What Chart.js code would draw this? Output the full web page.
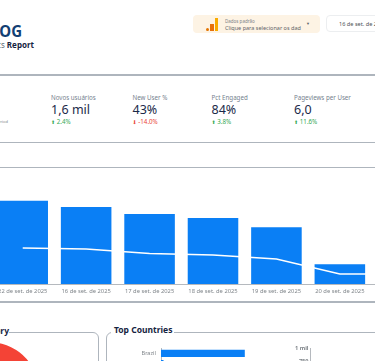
<!DOCTYPE html>
<html>
<head>
<meta charset="utf-8">
<title>Report</title>
<script src="https://cdn.jsdelivr.net/npm/chart.js@4"></script>
<style>
html, body { margin: 0; padding: 0; background: #fff; }
body { position: relative; width: 375px; height: 361px; overflow: hidden; font-family: "Noto Sans", sans-serif; filter: blur(0.35px); }
.abs { position: absolute; white-space: nowrap; }
.rule { position: absolute; left: 0; width: 375px; height: 1.5px; background: #aeb5bd; }
.kpi-label { font-size: 6.2px; line-height: 10px; color: #75818e; top: 92.5px; }
.kpi-value { font-size: 12.5px; line-height: 18px; color: #1b2a49; top: 101px; }
.kpi-delta { font-size: 6.2px; line-height: 8px; top: 118px; }
.kpi-delta span { font-family: "DejaVu Sans"; font-size: 5px; }
.up { color: #34a853; }
.down { color: #ea4335; }
canvas { position: absolute; }
</style>
</head>
<body>
<!-- header -->
<div class="abs" style="right:353px;top:20px;font:700 15px/20px 'Noto Sans';color:#123f73;transform:scaleY(1.12)">BLOG</div>
<div class="abs" style="right:341px;top:39px;font:400 8px/11px 'Noto Sans';color:#5d6873">Analytics <b style="color:#16233f">Report</b></div>

<div class="abs" style="left:193px;top:15px;width:126.5px;height:18px;background:#fdf3e4;border-radius:4px"></div>
<div class="abs" style="left:205.5px;top:28px;width:3px;height:3px;border-radius:50%;background:#e37400"></div>
<div class="abs" style="left:210px;top:24px;width:3.5px;height:7px;background:#e8710a"></div>
<div class="abs" style="left:214.5px;top:18px;width:3.5px;height:13px;background:#f9ab00"></div>
<div class="abs" style="left:225px;top:18px;font-size:4.5px;line-height:6px;color:#7d8288">Dados padrão</div>
<div class="abs" style="left:225px;top:24px;font-size:5.5px;line-height:8px;color:#5f6368">Clique para selecionar os dad</div>
<div class="abs" style="left:306px;top:21px;font-size:4px;line-height:6px;color:#5f6368">▼</div>
<div class="abs" style="left:325.5px;top:15px;width:80px;height:17px;box-sizing:border-box;border:1px solid #eceef0;border-radius:4px"></div>
<div class="abs" style="left:339px;top:20px;font-size:5.6px;line-height:8px;color:#4d5156">16 de set. de 2025</div>

<div class="rule" style="top:74px"></div>

<!-- scorecards -->
<div class="abs" style="right:367px;top:119px;font-size:4px;line-height:6px;color:#7d8288">vs previous period</div>
<div id="kpis"></div>

<div class="rule" style="top:141.5px"></div>
<div class="rule" style="top:166.5px"></div>
<canvas id="dailyChart"></canvas>
<div class="rule" style="top:301px"></div>

<!-- lower panels -->
<div class="abs" style="left:-40px;top:332px;width:138.5px;height:60px;box-sizing:border-box;border:1.5px solid #aeb5bd;border-radius:6px"></div>
<div class="abs" style="right:366px;top:325px;padding-left:3px;background:#fff;font:700 8.5px/12px 'Noto Sans';color:#16233f">Device Category</div>
<div class="abs" style="left:105.5px;top:332px;width:320px;height:60px;box-sizing:border-box;border:1.5px solid #aeb5bd;border-radius:6px"></div>
<div class="abs" style="left:111px;top:324px;padding:0 2px 0 3px;background:#fff;font:700 8.5px/12px 'Noto Sans';color:#16233f">Top Countries</div>
<canvas id="deviceChart"></canvas>
<canvas id="countryChart"></canvas>

<script>
const kpiLabels = ['Novos usuários', 'New User %', 'Pct Engaged', 'Pageviews per User'];
const kpiValues = ['1,6 mil', '43%', '84%', '6,0'];
const kpiDeltas = ['2.4%', '-14.0%', '3.8%', '11.6%'];
const kpiLeft = [51, 132.5, 211.5, 294];

const days = ['22 de set. de 2025', '16 de set. de 2025', '17 de set. de 2025', '18 de set. de 2025', '19 de set. de 2025', '20 de set. de 2025', '21 de set. de 2025'];
const sessions = [833, 770, 700, 660, 567, 197, 190];
const newUsers = [360, 350, 305, 290, 250, 100, 100];

const devices = ['mobile', 'desktop', 'tablet'];
const deviceUsers = [60, 38, 2];

const countries = ['Brazil', 'United States', 'Portugal', 'Angola', 'Spain'];
const countryUsers = [1000, 30, 12, 8, 5];

const axisGrey = '#b5b9be';
const tickGrey = '#80868b';

// scorecards are plain text
document.getElementById('kpis').innerHTML = kpiLabels.map((label, i) => {
    const down = kpiDeltas[i].startsWith('-');
    return `<div class="abs kpi-label" style="left:${kpiLeft[i]}px">${label}</div>` +
        `<div class="abs kpi-value" style="left:${kpiLeft[i]}px">${kpiValues[i]}</div>` +
        `<div class="abs kpi-delta ${down ? 'down' : 'up'}" style="left:${kpiLeft[i]}px"><span>${down ? '⬇' : '⬆'}</span> ${kpiDeltas[i]}</div>`;
}).join('');

function place(id, left, top, width, height) {
    const el = document.getElementById(id);
    el.style.left = left + 'px';
    el.style.top = top + 'px';
    el.width = width;
    el.height = height;
    return el.getContext('2d');
}

new Chart(place('dailyChart', -9, 180, 444, 120), {
    type: 'bar',
    data: {
        labels: days,
        datasets: [
            { type: 'line', data: newUsers, borderColor: '#ffffff', borderWidth: 1.5, pointRadius: 0, tension: 0, order: 0 },
            { data: sessions, backgroundColor: '#0a7ff5', categoryPercentage: 0.797, barPercentage: 1, order: 1 }
        ]
    },
    options: {
        responsive: false,
        animation: false,
        layout: { padding: { top: 4, left: 0, right: 0, bottom: 0 } },
        plugins: { legend: { display: false }, tooltip: { enabled: false } },
        scales: {
            x: {
                grid: { display: false, drawTicks: false },
                border: { color: axisGrey, width: 1 },
                ticks: { color: tickGrey, font: { family: 'Noto Sans', size: 5.8 }, padding: 4, maxRotation: 0, autoSkip: false },
                afterFit: (scale) => { scale.height = 16; }
            },
            y: { display: false, min: 0, max: 1000 }
        }
    }
});

new Chart(place('deviceChart', -61, 342, 100, 100), {
    type: 'pie',
    data: {
        labels: devices,
        datasets: [{ data: deviceUsers, backgroundColor: ['#f44336', '#1a73e8', '#fbbc04'], borderWidth: 0 }]
    },
    options: {
        responsive: false,
        animation: false,
        rotation: -30,
        layout: { padding: 0 },
        plugins: { legend: { display: false }, tooltip: { enabled: false } }
    }
});

new Chart(place('countryChart', 100, 340, 211, 70), {
    type: 'bar',
    data: {
        labels: countries,
        datasets: [{ data: countryUsers, backgroundColor: '#0a7ff5', categoryPercentage: 0.72, barPercentage: 1 }]
    },
    options: {
        indexAxis: 'y',
        responsive: false,
        animation: false,
        layout: { padding: { top: 6.75, bottom: 10.75, left: 0, right: 0.5 } },
        plugins: { legend: { display: false }, tooltip: { enabled: false } },
        scales: {
            x: { display: false, min: 0, max: 1784 },
            y: {
                grid: { display: false, drawTicks: false },
                border: { color: axisGrey, width: 1 },
                ticks: { color: tickGrey, font: { family: 'Noto Sans', size: 5.6 }, padding: 5, autoSkip: false },
                afterFit: (scale) => { scale.width = 61; }
            },
            y2: {
                type: 'linear',
                position: 'right',
                offset: false,
                min: 0,
                max: 1000,
                grid: { display: false, drawTicks: false, offset: false },
                border: { color: axisGrey, width: 1 },
                ticks: {
                    color: tickGrey,
                    mirror: true,
                    stepSize: 250,
                    font: { family: 'Noto Sans', size: 5.6, weight: 'bold' },
                    padding: -2,
                    callback: (v) => v === 1000 ? '1 mil' : v
                },
                afterFit: (scale) => { scale.width = 0; }
            }
        }
    }
});
</script>
</body>
</html>
